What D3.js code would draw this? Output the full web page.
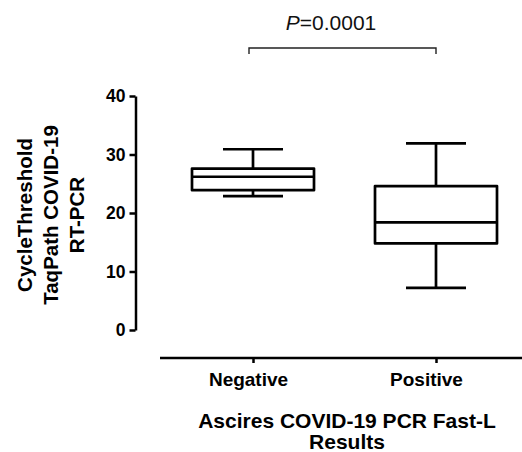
<!DOCTYPE html>
<html>
<head>
<meta charset="utf-8">
<script src="https://cdn.jsdelivr.net/npm/d3@7"></script>
<style>
  body { margin: 0; background: #fff; }
  svg { display: block; font-family: 'Liberation Sans', Arial, sans-serif; }
</style>
</head>
<body>
<div id="chart"></div>
<script>
  var categories = ['Negative', 'Positive'];
  var whiskerLow = [22.9, 7.2];
  var quartile1 = [23.9, 14.8];
  var medians = [26.2, 18.4];
  var quartile3 = [27.6, 24.6];
  var whiskerHigh = [30.9, 31.9];
  var yTicks = [0, 10, 20, 30, 40];
  var pLabel = '0.0001';

  var width = 522, height = 452;

  var svg = d3.select('#chart').append('svg')
    .attr('width', width)
    .attr('height', height);

  var x = d3.scalePoint()
    .domain(categories)
    .range([253, 436]);

  var y = d3.scaleLinear()
    .domain([0, 40])
    .range([330, 96]);

  // y axis
  var yAxis = svg.append('g')
    .attr('transform', 'translate(135.5,0)')
    .call(d3.axisLeft(y).tickValues(yTicks).tickSize(6).tickSizeOuter(0).tickPadding(4));

  yAxis.select('.domain').attr('stroke', '#000').attr('stroke-width', 2.5);
  yAxis.selectAll('.tick line').attr('stroke', '#000').attr('stroke-width', 2.5);
  yAxis.selectAll('.tick text')
    .attr('fill', '#000')
    .style('font-size', '17.5px')
    .style('font-weight', 'bold')
    .style('font-family', "'Liberation Sans', Arial, sans-serif");

  // x axis (detached below the plot)
  var xAxis = svg.append('g')
    .attr('transform', 'translate(0,358)')
    .call(d3.axisBottom(x).tickSize(5).tickSizeOuter(0).tickPadding(10));

  xAxis.select('.domain').attr('d', 'M160,0H522').attr('stroke', '#000').attr('stroke-width', 2.5);
  xAxis.selectAll('.tick line').attr('stroke', '#000').attr('stroke-width', 2.5);
  xAxis.selectAll('.tick text')
    .attr('fill', '#000')
    .attr('dx', function(d, i) { return i === 0 ? -5 : -10; })
    .style('font-size', '19px')
    .style('font-weight', 'bold')
    .style('font-family', "'Liberation Sans', Arial, sans-serif");

  // boxes
  var boxWidth = 122, capWidth = 60;
  var boxData = categories.map(function(c, i) {
    return { cat: c, lo: whiskerLow[i], q1: quartile1[i], med: medians[i], q3: quartile3[i], hi: whiskerHigh[i] };
  });

  var box = svg.append('g').selectAll('g.box')
    .data(boxData)
    .enter().append('g')
    .attr('class', 'box')
    .attr('fill', 'none')
    .attr('stroke', '#000')
    .attr('stroke-width', 2.7)
    .attr('stroke-linejoin', 'round');

  box.append('line')
    .attr('x1', function(d) { return x(d.cat); })
    .attr('x2', function(d) { return x(d.cat); })
    .attr('y1', function(d) { return y(d.hi); })
    .attr('y2', function(d) { return y(d.q3); });

  box.append('line')
    .attr('x1', function(d) { return x(d.cat); })
    .attr('x2', function(d) { return x(d.cat); })
    .attr('y1', function(d) { return y(d.q1); })
    .attr('y2', function(d) { return y(d.lo); });

  box.append('line')
    .attr('x1', function(d) { return x(d.cat) - capWidth / 2; })
    .attr('x2', function(d) { return x(d.cat) + capWidth / 2; })
    .attr('y1', function(d) { return y(d.hi); })
    .attr('y2', function(d) { return y(d.hi); });

  box.append('line')
    .attr('x1', function(d) { return x(d.cat) - capWidth / 2; })
    .attr('x2', function(d) { return x(d.cat) + capWidth / 2; })
    .attr('y1', function(d) { return y(d.lo); })
    .attr('y2', function(d) { return y(d.lo); });

  box.append('rect')
    .attr('x', function(d) { return x(d.cat) - boxWidth / 2; })
    .attr('width', boxWidth)
    .attr('y', function(d) { return y(d.q3); })
    .attr('height', function(d) { return y(d.q1) - y(d.q3); })
    .attr('fill', '#fff');

  box.append('line')
    .attr('x1', function(d) { return x(d.cat) - boxWidth / 2; })
    .attr('x2', function(d) { return x(d.cat) + boxWidth / 2; })
    .attr('y1', function(d) { return y(d.med); })
    .attr('y2', function(d) { return y(d.med); });

  // significance bracket
  var bx1 = x(categories[0]) - 4, bx2 = x(categories[1]);
  svg.append('path')
    .attr('d', 'M' + bx1 + ',54V48H' + bx2 + 'V54')
    .attr('fill', 'none')
    .attr('stroke', '#222')
    .attr('stroke-width', 1.4);

  var pText = svg.append('text')
    .attr('x', 331)
    .attr('y', 30)
    .attr('text-anchor', 'middle')
    .style('font-size', '21px')
    .attr('fill', '#111');
  pText.append('tspan').style('font-style', 'italic').text('P');
  pText.append('tspan').text('=' + pLabel);

  // y axis title
  var yTitle = svg.append('text')
    .attr('transform', 'translate(0,215) rotate(-90)')
    .attr('text-anchor', 'middle')
    .style('font-size', '20.5px')
    .style('font-weight', 'bold')
    .attr('fill', '#000');
  ['CycleThreshold', 'TaqPath COVID-19', 'RT-PCR'].forEach(function(t, i) {
    yTitle.append('tspan').attr('x', 0).attr('y', 32 + i * 26).text(t);
  });

  // x axis title
  var xTitle = svg.append('text')
    .attr('text-anchor', 'middle')
    .style('font-size', '21px')
    .style('font-weight', 'bold')
    .attr('fill', '#000');
  ['Ascires COVID-19 PCR Fast-L', 'Results'].forEach(function(t, i) {
    xTitle.append('tspan').attr('x', 347).attr('y', 428 + i * 21).text(t);
  });
</script>
</body>
</html>
